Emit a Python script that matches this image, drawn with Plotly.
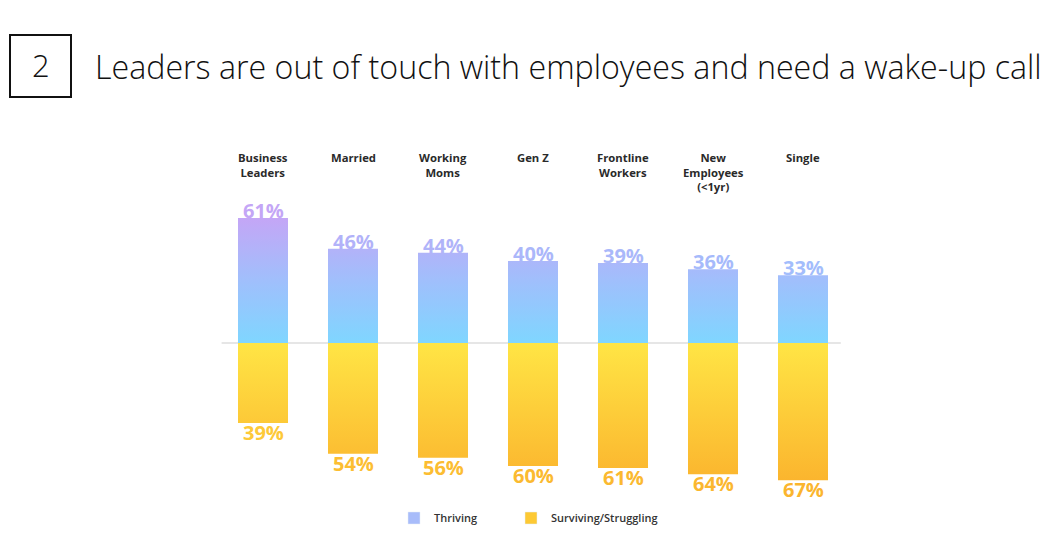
import plotly.graph_objects as go

categories = ["Business<br>Leaders", "Married", "Working<br>Moms", "Gen Z",
              "Frontline<br>Workers", "New<br>Employees<br>(<1yr)", "Single"]
thriving = [61, 46, 44, 40, 39, 36, 33]
struggling = [39, 54, 56, 60, 61, 64, 67]
series_names = ["Thriving", "Surviving/Struggling"]

TITLE = "Leaders are out of touch with employees and need a wake-up call"
SECTION = "2"

W, H = 1051, 541
x0_px, step_px = 263, 90          # centre of first bar, spacing
base_px, px_per = 343, 2.05       # baseline pixel, px per percent
half = 25 / step_px

xr = [-x0_px / step_px, (W - x0_px) / step_px]
yr = [-(H - base_px) / px_per, base_px / px_per]

blue_scale = [[0, "#7fd6ff"], [0.5, "#a0bffc"], [1, "#c4a6f6"]]
gold_scale = [[0, "#fbb52e"], [1, "#ffe545"]]


def hex2rgb(h):
    h = h.lstrip("#")
    return [int(h[i:i + 2], 16) for i in (0, 2, 4)]


def interp(scale, t):
    for (a, ca), (b, cb) in zip(scale[:-1], scale[1:]):
        if a <= t <= b:
            f = (t - a) / (b - a) if b > a else 0
            c1, c2 = hex2rgb(ca), hex2rgb(cb)
            return "rgb(%d,%d,%d)" % tuple(round(c1[k] + (c2[k] - c1[k]) * f) for k in range(3))
    return scale[-1][1]


def bars_path(values, sign):
    xs, ys = [], []
    for i, v in enumerate(values):
        xs += [i - half, i + half, i + half, i - half, i - half, None]
        ys += [0, 0, sign * v, sign * v, 0, None]
    return xs, ys


fig = go.Figure()

tx, ty = bars_path(thriving, 1)
fig.add_trace(go.Scatter(
    x=tx, y=ty, mode="lines", fill="toself", line=dict(width=0),
    fillgradient=dict(type="vertical", colorscale=blue_scale, start=0, stop=max(thriving)),
    showlegend=False, hoverinfo="skip"))

sx, sy = bars_path(struggling, -1)
fig.add_trace(go.Scatter(
    x=sx, y=sy, mode="lines", fill="toself", line=dict(width=0),
    fillgradient=dict(type="vertical", colorscale=gold_scale, start=-max(struggling), stop=0),
    showlegend=False, hoverinfo="skip"))

# legend entries
fig.add_trace(go.Bar(x=[None], y=[None], name=series_names[0], marker_color="#a8bcfa", legend="legend"))
fig.add_trace(go.Bar(x=[None], y=[None], name=series_names[1], marker_color="#fdc934", legend="legend2"))

# baseline
fig.add_shape(type="line", xref="x", yref="y", x0=-0.46, x1=len(categories) - 1 + 0.42,
              y0=0, y1=0, line=dict(color="#e6e6e6", width=2), layer="below")

ann = []
for i, (c, t, s) in enumerate(zip(categories, thriving, struggling)):
    ann.append(dict(x=i, y=yr[1], xref="x", yref="y", text=c, showarrow=False,
                    yanchor="top", yshift=-(150 - 2),
                    font=dict(family="Open Sans", size=11.3, color="#2a2a2a", weight=700),
                    align="center"))
    ann.append(dict(x=i, y=t, xref="x", yref="y", text="<b>%d%%</b>" % t, showarrow=False,
                    yanchor="bottom", yshift=-8,
                    font=dict(family="Open Sans", size=20, color=interp(blue_scale, t / max(thriving)))))
    ann.append(dict(x=i, y=-s, xref="x", yref="y", text="<b>%d%%</b>" % s, showarrow=False,
                    yanchor="top", yshift=6,
                    font=dict(family="Open Sans", size=20, color=interp(gold_scale, 1 - s / max(struggling)))))

# header
ann.append(dict(x=40.5 / W, y=1 - 65 / H, xref="paper", yref="paper", text=SECTION, showarrow=False,
                xanchor="center", yanchor="middle", font=dict(family="Open Sans", size=31, color="#111111", weight=300)))
ann.append(dict(x=93 / W, y=1 - 66 / H, xref="paper", yref="paper", text=TITLE, showarrow=False,
                xanchor="left", yanchor="middle", font=dict(family="Open Sans", size=32.2, color="#111111", weight=300)))
fig.add_shape(type="rect", xref="paper", yref="paper", x0=10 / W, x1=71 / W, y0=1 - 97 / H, y1=1 - 35 / H,
              line=dict(color="#111111", width=2))

leg_font = dict(family="Open Sans", size=11, color="#333333", weight=600)
fig.update_layout(
    width=W, height=H, margin=dict(l=0, r=0, t=0, b=0),
    paper_bgcolor="white", plot_bgcolor="white",
    xaxis=dict(range=xr, visible=False, fixedrange=True),
    yaxis=dict(range=yr, visible=False, fixedrange=True),
    annotations=ann,
    showlegend=True,
    legend=dict(orientation="h", x=394 / W, xanchor="left", y=1 - 518 / H, yanchor="middle",
                font=leg_font, bgcolor="rgba(0,0,0,0)"),
    legend2=dict(orientation="h", x=511 / W, xanchor="left", y=1 - 518 / H, yanchor="middle",
                 font=leg_font, bgcolor="rgba(0,0,0,0)"),
)

fig.write_html("out.html")
